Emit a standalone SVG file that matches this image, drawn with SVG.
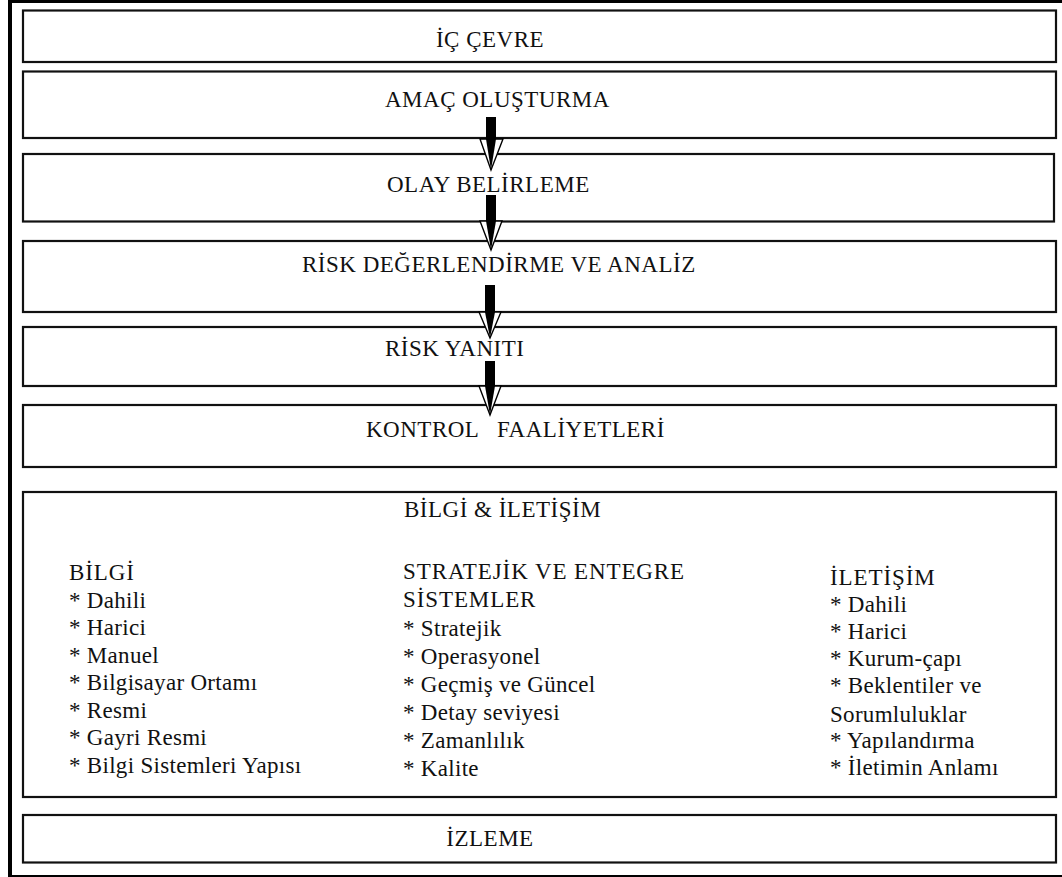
<svg xmlns="http://www.w3.org/2000/svg" width="1062" height="877" viewBox="0 0 1062 877">
  <style>
    .box { fill: #fff; stroke: #111; stroke-width: 2.2; }
    text { font-family: "Liberation Serif", "DejaVu Serif", "Times New Roman", serif; font-size: 23px; fill: #111; letter-spacing: 0.3px; }
    .title { letter-spacing: 0.5px; }
    .caps { letter-spacing: 0.9px; }
    .mid { text-anchor: middle; }
    .shaft { fill: #000; }
    .head { fill: #fff; stroke: #000; stroke-width: 1.4; }
  </style>
  <rect x="0" y="0" width="1062" height="877" fill="#fff"/>

  <!-- outer frame -->
  <g id="frame" stroke="#000" fill="none">
    <line x1="10" y1="0" x2="10" y2="877" stroke-width="4"/>
    <line x1="8" y1="1.5" x2="1062" y2="1.5" stroke-width="3"/>
    <line x1="8" y1="876" x2="1062" y2="876" stroke-width="2"/>
  </g>

  <g id="ic-cevre">
    <rect class="box" x="23" y="10.5" width="1033" height="51.5"/>
    <text class="title mid" x="490" y="47">İÇ ÇEVRE</text>
  </g>

  <g id="amac-olusturma">
    <rect class="box" x="23" y="71.5" width="1033" height="66.5"/>
    <text class="title" x="385" y="106.5">AMAÇ OLUŞTURMA</text>
  </g>

  <g id="olay-belirleme">
    <rect class="box" x="23" y="154" width="1031" height="67.5"/>
    <text class="title" x="387" y="192">OLAY BELİRLEME</text>
  </g>

  <g id="risk-degerlendirme">
    <rect class="box" x="23" y="241" width="1033" height="71"/>
    <text class="title" x="302" y="272">RİSK DEĞERLENDİRME VE ANALİZ</text>
  </g>

  <g id="risk-yaniti">
    <rect class="box" x="23" y="327" width="1033" height="59"/>
    <text class="title" x="385" y="356">RİSK YANITI</text>
  </g>

  <g id="kontrol-faaliyetleri">
    <rect class="box" x="23" y="405" width="1033" height="62"/>
    <text class="title" x="366" y="437" xml:space="preserve" word-spacing="3">KONTROL  FAALİYETLERİ</text>
  </g>

  <g id="bilgi-iletisim">
    <rect class="box" x="23" y="492" width="1033" height="305"/>
    <text class="title" x="404" y="517">BİLGİ &amp; İLETİŞİM</text>
    <g id="col-bilgi">
      <text class="caps" x="69" y="580">BİLGİ</text>
      <text x="69" y="607.5">* Dahili</text>
      <text x="69" y="635">* Harici</text>
      <text x="69" y="662.5">* Manuel</text>
      <text x="69" y="690">* Bilgisayar Ortamı</text>
      <text x="69" y="717.5">* Resmi</text>
      <text x="69" y="745">* Gayri Resmi</text>
      <text x="69" y="772.5">* Bilgi Sistemleri Yapısı</text>
    </g>
    <g id="col-sistemler">
      <text class="caps" x="403" y="579">STRATEJİK VE ENTEGRE</text>
      <text class="caps" x="403" y="607">SİSTEMLER</text>
      <text x="403" y="636">* Stratejik</text>
      <text x="403" y="664">* Operasyonel</text>
      <text x="403" y="692">* Geçmiş ve Güncel</text>
      <text x="403" y="720">* Detay seviyesi</text>
      <text x="403" y="748">* Zamanlılık</text>
      <text x="403" y="776">* Kalite</text>
    </g>
    <g id="col-iletisim">
      <text class="caps" x="830" y="585">İLETİŞİM</text>
      <text x="830" y="612">* Dahili</text>
      <text x="830" y="639">* Harici</text>
      <text x="830" y="666">* Kurum-çapı</text>
      <text x="830" y="693">* Beklentiler ve</text>
      <text x="830" y="721.5">Sorumluluklar</text>
      <text x="830" y="748">* Yapılandırma</text>
      <text x="830" y="775">* İletimin Anlamı</text>
    </g>
  </g>

  <g id="izleme">
    <rect class="box" x="23" y="815" width="1033" height="47.5"/>
    <text class="title mid" x="490" y="846">İZLEME</text>
  </g>

  <!-- block arrows between the stacked stages -->
  <g id="connectors">
    <g>
      <rect class="shaft" x="486" y="117" width="10" height="24"/>
      <polygon class="head" points="480,139 503,139 491,170"/>
      <polygon class="shaft" points="486,139 496,139 491,170"/>
    </g>
    <g>
      <rect class="shaft" x="486" y="195" width="10" height="28"/>
      <polygon class="head" points="480,221 502,221 491,250"/>
      <polygon class="shaft" points="486,221 496,221 491,250"/>
    </g>
    <g>
      <rect class="shaft" x="485" y="285" width="10" height="29"/>
      <polygon class="head" points="479,312 501,312 490,338"/>
      <polygon class="shaft" points="485,312 495,312 490,338"/>
    </g>
    <g>
      <rect class="shaft" x="485" y="361" width="10" height="27"/>
      <polygon class="head" points="479,386 501,386 490,415"/>
      <polygon class="shaft" points="485,386 495,386 490,415"/>
    </g>
  </g>
</svg>
